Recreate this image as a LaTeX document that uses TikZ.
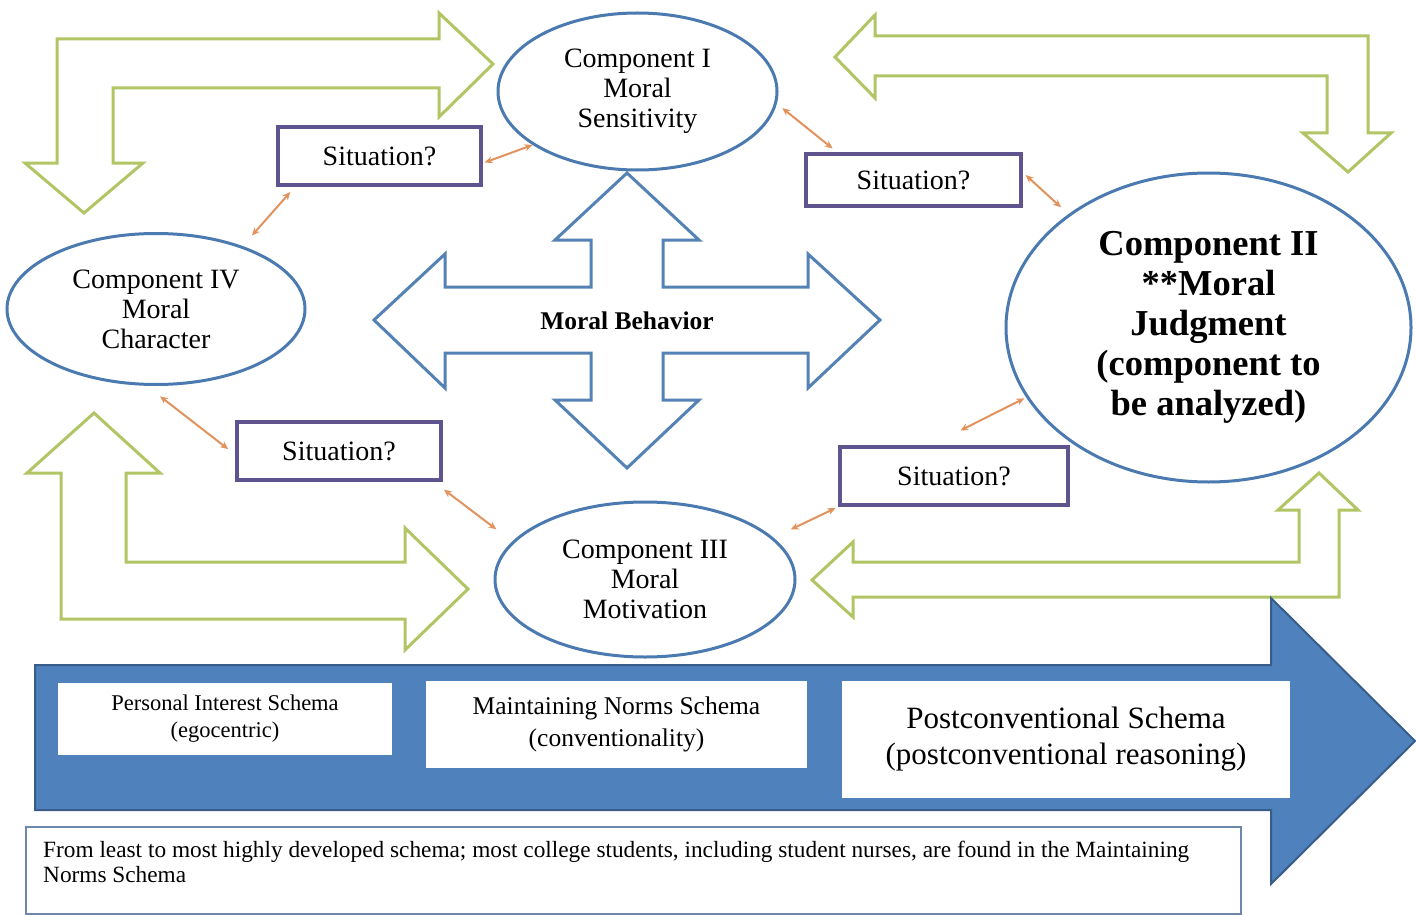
\documentclass[tikz,border=0pt]{standalone}
\usepackage{fontspec}
\setmainfont{Liberation Serif}
\usetikzlibrary{shapes.geometric,arrows.meta}
\definecolor{ellblue}{RGB}{74,122,176}
\definecolor{sitpurple}{RGB}{96,84,142}
\definecolor{orarrow}{RGB}{226,146,92}
\definecolor{grn}{RGB}{178,197,100}
\definecolor{crossblue}{RGB}{84,130,180}
\definecolor{bigblue}{RGB}{79,129,189}
\definecolor{bigblueline}{RGB}{56,93,138}
\definecolor{notebox}{RGB}{110,135,172}
\begin{document}
\begin{tikzpicture}[x=1pt,y=-1pt,
  comp/.style={ellipse, draw=ellblue, line width=3pt, fill=white, inner sep=0pt, align=center,
    font=\fontsize{28}{30}\selectfont},
  sit/.style={rectangle, draw=sitpurple, line width=3.5pt, fill=white, inner sep=0pt,
    font=\fontsize{28}{30}\selectfont},
  schema/.style={rectangle, fill=white, inner sep=0pt, align=center},
  orarr/.style={draw=orarrow, line width=2pt, {Stealth[length=8pt,width=7pt]}-{Stealth[length=8pt,width=7pt]}},
  grnarrow/.style={draw=grn, line width=3pt, fill=white, line join=miter},
  crossarrow/.style={draw=crossblue, line width=3pt, fill=white, line join=miter},
]
\useasboundingbox (0,0) rectangle (1416,915);
\fill[white] (0,0) rectangle (1416,915);

% green arrows
\draw[grnarrow] (84,213) -- (25,163) -- (57,163) -- (57,39) -- (439,39) -- (439,13) -- (493,64)
  -- (439,117) -- (439,88) -- (113,88) -- (113,163) -- (143,163) -- cycle;
\draw[grnarrow] (835,57) -- (875,15) -- (875,36) -- (1368,36) -- (1368,133) -- (1391,133)
  -- (1348,172) -- (1303,133) -- (1327,133) -- (1327,76) -- (875,76) -- (875,98) -- cycle;
\draw[grnarrow] (94,413) -- (160,473) -- (126,473) -- (126,562) -- (405,562) -- (405,528)
  -- (468,589) -- (405,650) -- (405,619) -- (61,619) -- (61,473) -- (27,473) -- cycle;
\draw[grnarrow] (812,580) -- (853,542) -- (853,562) -- (1299,562) -- (1299,510) -- (1278,510)
  -- (1319,473) -- (1358,510) -- (1339,510) -- (1339,597) -- (853,597) -- (853,617) -- cycle;

% big blue arrow
\draw[fill=bigblue, draw=bigblueline, line width=2pt, line join=miter]
  (35,665) -- (1271,665) -- (1271,598) -- (1415,741) -- (1271,884) -- (1271,810) -- (35,810) -- cycle;

% schema boxes
\node[schema, minimum width=334pt, minimum height=72pt, font=\fontsize{22.5}{27}\selectfont] (p1) at (225,719)
  {Personal Interest Schema\\(egocentric)};
\node[schema, minimum width=381pt, minimum height=87pt, font=\fontsize{25.5}{32}\selectfont] (p2) at (616.5,724.5)
  {Maintaining Norms Schema\\(conventionality)};
\node[schema, minimum width=448pt, minimum height=117pt, font=\fontsize{31}{36}\selectfont] (p3) at (1066,739.5)
  {Postconventional Schema\\(postconventional reasoning)};

% note box
\node[rectangle, draw=notebox, line width=2pt, fill=white, anchor=north west,
  minimum width=1215pt, minimum height=87pt] (note) at (25,826) {};
\node[anchor=north west, inner sep=0pt, align=left, font=\fontsize{23.3}{25}\selectfont] (notetext) at (43,841)
  {From least to most highly developed schema; most college students, including student nurses, are found in the Maintaining\\Norms Schema};

% central cross
\draw[crossarrow] (627,173) -- (699,240) -- (663,240) -- (663,287) -- (808,287) -- (808,254)
  -- (880,320) -- (808,388) -- (808,353) -- (663,353) -- (663,400) -- (699,400) -- (627,468)
  -- (555,400) -- (591,400) -- (591,353) -- (445,353) -- (445,388) -- (374,320) -- (445,254)
  -- (445,287) -- (591,287) -- (591,240) -- (555,240) -- cycle;
\node[font=\fontsize{25.5}{28}\selectfont\bfseries] (mb) at (627,321) {Moral Behavior};

% components
\node[comp, minimum width=279pt, minimum height=157pt] (c1) at (637.5,91.5)
  {Component I\\Moral\\Sensitivity};
\node[comp, minimum width=298pt, minimum height=151pt] (c4) at (156,309)
  {Component IV\\Moral\\Character};
\node[comp, minimum width=300pt, minimum height=155pt] (c3) at (645,579.5)
  {Component III\\Moral\\Motivation};
\node[comp, minimum width=405pt, minimum height=309pt, font=\fontsize{36.5}{40}\selectfont\bfseries] (c2) at (1208.5,327.5)
  {Component II\\**Moral\\Judgment\\(component to\\be analyzed)};

% situation boxes
\node[sit, minimum width=203pt, minimum height=58pt] (s1) at (379.5,156) {Situation?};
\node[sit, minimum width=215pt, minimum height=52pt] (s2) at (913.5,180) {Situation?};
\node[sit, minimum width=204pt, minimum height=58pt] (s3) at (339,451) {Situation?};
\node[sit, minimum width=228pt, minimum height=58pt] (s4) at (954,476) {Situation?};

% orange connectors
\draw[orarr, shorten <=2pt] (s1.-4) -- (c1.207);
\draw[orarr, shorten <=7pt, shorten >=14pt] (s1.200) -- (c4.36);
\draw[orarr, shorten <=7pt, shorten >=6pt] (c1.-5) -- (s2.160);
\draw[orarr, shorten <=4pt, shorten >=10pt] (s2.4) -- (c2.141);
\draw[orarr, shorten <=17pt, shorten >=9pt] (c4.263) -- (s3.182);
\draw[orarr, shorten <=13pt, shorten >=20pt] (s3.-18) -- (c3.164);
\draw[orarr, shorten <=3pt, shorten >=19pt] (s4.south west) -- (c3.18);
\draw[orarr, shorten <=2pt, shorten >=33pt] (c2.201) -- (s4.127);
\end{tikzpicture}
\end{document}
